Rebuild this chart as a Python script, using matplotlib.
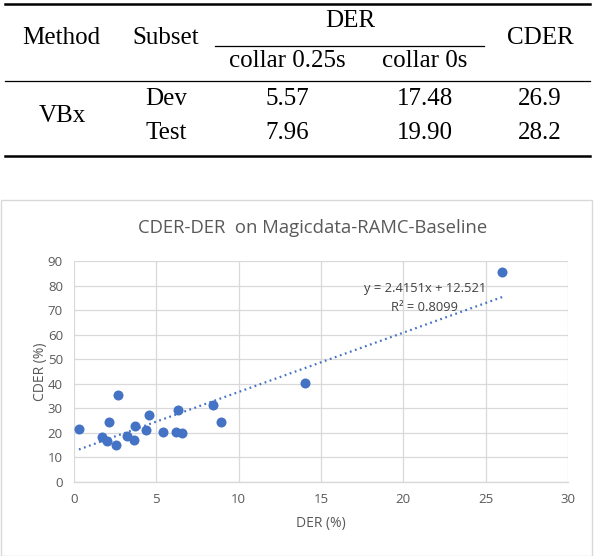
import matplotlib.pyplot as plt
from matplotlib.lines import Line2D
from matplotlib.patches import Rectangle

# ------------------------------------------
# Table data
# ------------------------------------------
methods = ["VBx"]
subsets = ["Dev", "Test"]
der_collar_025 = ["5.57", "7.96"]
der_collar_0 = ["17.48", "19.90"]
cder_vals = ["26.9", "28.2"]

# ------------------------------------------
# Scatter data
# ------------------------------------------
der = [0.30, 1.69, 2.01, 2.15, 2.54, 2.68, 3.19, 3.65, 3.72, 4.35,
       4.56, 5.41, 6.22, 6.29, 6.55, 8.47, 8.93, 14.04, 26.02]
cder = [21.4, 18.4, 16.8, 24.5, 15.2, 35.5, 18.6, 17.2, 22.8, 21.3,
        27.4, 20.2, 20.5, 29.3, 19.8, 31.4, 24.3, 40.4, 85.4]
slope, intercept = 2.4151, 12.521
r2 = 0.8099

W, H = 596, 556
fig = plt.figure(figsize=(W / 100, H / 100), dpi=100)


def fx(px):
    return px / W


def fy(py):
    return 1 - py / H


def hline(x0, x1, y, lw):
    fig.add_artist(Line2D([fx(x0), fx(x1)], [fy(y), fy(y)], color="black", lw=lw))


def ttext(x, y, s):
    fig.text(fx(x), fy(y), s, ha="center", va="center", fontsize=18,
             family="Liberation Serif", color="black")


# ------------------------------------------
# Table
# ------------------------------------------
hline(5, 590, 3.5, 1.8)
hline(215, 484, 46, 0.9)
hline(5, 590, 81, 0.9)
hline(5, 590, 156, 1.8)

ttext(61, 38, "Method")
ttext(166, 38, "Subset")
ttext(350, 21, "DER")
ttext(287, 61, "collar 0.25s")
ttext(425, 61, "collar 0s")
ttext(540, 38, "CDER")
ttext(62, 116, methods[0])
for i, yy in enumerate([99, 133]):
    ttext(166, yy, subsets[i])
    ttext(287, yy, der_collar_025[i])
    ttext(425, yy, der_collar_0[i])
    ttext(540, yy, cder_vals[i])

# ------------------------------------------
# Chart frame
# ------------------------------------------
fig.add_artist(Rectangle((fx(0.5), fy(555.5)), fx(591.5), fy(200) - fy(555.5),
                         transform=fig.transFigure, fill=False,
                         edgecolor="#D9D9D9", lw=1.0))

fig.text(fx(313), fy(228), "CDER-DER  on Magicdata-RAMC-Baseline",
         ha="center", va="center", fontsize=13.3, family="Open Sans", color="#595959")

ax = fig.add_axes([fx(74), fy(482), fx(568) - fx(74), fy(261) - fy(482)])
ax.set_xlim(0, 30)
ax.set_ylim(0, 90)
ax.set_xticks(range(0, 31, 5))
ax.set_yticks(range(0, 91, 10))
ax.grid(True, color="#D9D9D9", lw=0.9)
ax.set_axisbelow(True)
for side in ["top", "right", "left"]:
    ax.spines[side].set_visible(False)
ax.spines["bottom"].set_color("#D9D9D9")
ax.spines["bottom"].set_linewidth(1.0)
ax.tick_params(length=0, labelsize=9.5, labelcolor="#595959", pad=8)
for lab in ax.get_xticklabels() + ax.get_yticklabels():
    lab.set_family("Open Sans")

# trendline
xs = [min(der), max(der)]
ax.plot(xs, [slope * x + intercept for x in xs], color="#4472C4", lw=1.6,
        linestyle=(0, (0.8, 1.6)), zorder=2)

ax.scatter(der, cder, s=52, color="#4472C4", zorder=3, linewidths=0)

ax.text(21.3, 79, f"y = {slope}x + {intercept}", ha="center", va="center",
        fontsize=9.3, family="Open Sans", color="#404040")
ax.text(21.3, 71, f"R² = {r2}", ha="center", va="center",
        fontsize=9.3, family="Open Sans", color="#404040")

ax.set_xlabel("DER (%)", fontsize=10, family="Open Sans", color="#595959", labelpad=7)
ax.set_ylabel("CDER (%)", fontsize=10, family="Open Sans", color="#595959", labelpad=0)

fig.savefig("out.png", dpi=100)
